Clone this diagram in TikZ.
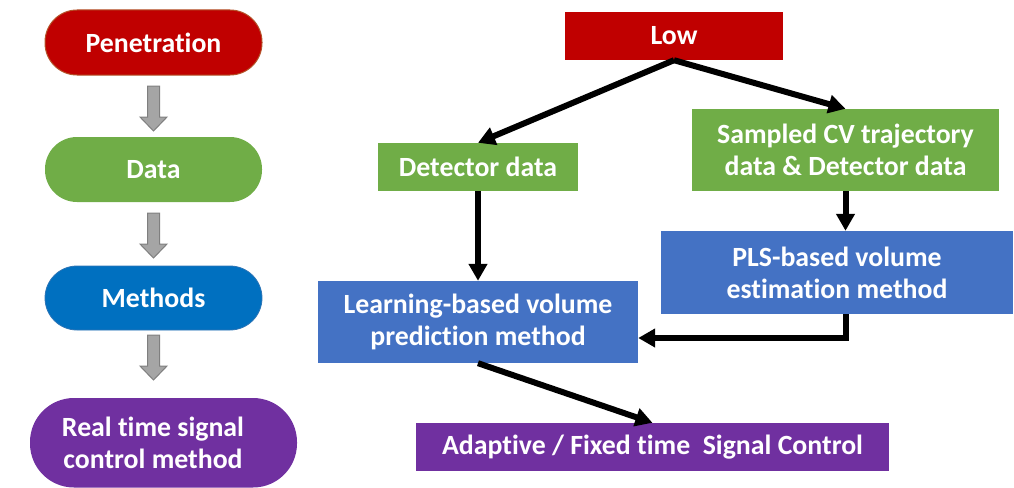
\documentclass[tikz,border=0pt]{standalone}
\usepackage{fontspec}
\setmainfont{Carlito}[Ligatures=CommonOff]
\usetikzlibrary{arrows.meta,calc}
\definecolor{cred}{HTML}{C00000}
\definecolor{credge}{HTML}{B4542A}
\definecolor{cgreen}{HTML}{70AD47}
\definecolor{cblue}{HTML}{4472C4}
\definecolor{cmblue}{HTML}{0070C0}
\definecolor{cmedge}{HTML}{2E75B6}
\definecolor{cpurple}{HTML}{7030A0}
\definecolor{cgray}{HTML}{A5A5A5}
\definecolor{cgrayedge}{HTML}{7F7F7F}

\begin{document}
\begin{tikzpicture}[x=1pt,y=-1pt,
  every node/.style={font=\fontsize{27.8}{32}\selectfont\bfseries, text=white,
    align=center, inner sep=0pt},
  pill/.style={rectangle, rounded corners=32pt, minimum width=217pt, minimum height=65pt},
  stage/.style={rectangle},
  link/.style={line width=6pt, -{Triangle[length=17pt,width=18pt]}},
  pics/blockdown/.style={code={
    \draw[fill=cgray, draw=cgrayedge, line width=1pt]
      (-6,0) -- (-6,31) -- (-13.5,31) -- (0,45) -- (13.5,31) -- (6,31) -- (6,0) -- cycle;}}
]
\useasboundingbox (0,0) rectangle (1014,487);

% left column: level of penetration down to the control method
\node[pill, fill=cred, draw=credge, line width=1pt] (pen) at (153.5,42.5) {Penetration};
\node[pill, fill=cgreen] (data) at (153.5,169.5) {Data};
\node[pill, fill=cmblue, draw=cmedge, line width=0.8pt, minimum height=64pt] (meth) at (153.5,298) {Methods};
% wider pill for the control method, its label kept on the column's axis
\fill[cpurple, rounded corners=44pt] (30,398) rectangle (297,487.5);
\node (ctrl) at (153,442.5) {Real time signal\\control method};

\pic at (pen.south |- 0,86) {blockdown};
\pic at (pen.south |- 0,213) {blockdown};
\pic at (pen.south |- 0,335) {blockdown};

% right side: flow for the low penetration case
\node[stage, fill=cred, minimum width=218pt, minimum height=48pt] (low) at (674,36) {Low};
\node[stage, fill=cgreen, minimum width=200pt, minimum height=48pt] (det) at (478,167) {Detector data};
\node[stage, fill=cgreen, minimum width=307pt, minimum height=82pt] (samp) at (845.5,150)
  {Sampled CV trajectory\\data \& Detector data};
\node[stage, fill=cblue, minimum width=352pt, minimum height=83pt] (pls) at (837,272.5)
  {PLS-based volume\\estimation method};
\node[stage, fill=cblue, minimum width=320pt, minimum height=82pt] (learn) at (478,322)
  {Learning-based volume\\prediction method};
\node[stage, fill=cpurple, minimum width=473pt, minimum height=48pt] (adapt) at (652.5,447)
  {Adaptive / Fixed time\ \ Signal Control};

\draw[link] (low.south) -- (det.north);
\draw[link] (low.south) -- (samp.north);
\draw[link] (det.south) -- (learn.north);
\draw[link] (samp.south) -- (samp.south |- pls.north);
\draw[link] (samp.south |- pls.south) |- ($(learn.east)+(0,16)$);
\draw[link] (learn.south) -- (adapt.north);
\end{tikzpicture}
\end{document}
